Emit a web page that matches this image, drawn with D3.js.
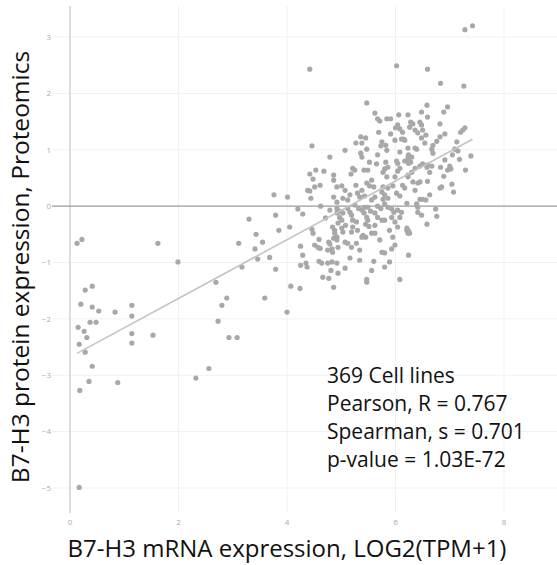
<!DOCTYPE html>
<html>
<head>
<meta charset="utf-8">
<script src="https://cdn.jsdelivr.net/npm/d3@7"></script>
<style>
  body { margin: 0; background: #fff; }
  svg { display: block; font-family: "Open Sans", "Noto Sans", sans-serif; }
</style>
</head>
<body>
<script>
const width = 557,
    height = 565;

// mRNA expression, LOG2(TPM+1) per cell line
const mrna = [
    0.13, 0.22, 1.62, 1.99, 0.28, 0.41, 0.20, 0.41, 0.53, 0.83, 1.14, 1.14, 0.15, 0.26, 0.31, 0.37, 0.48, 0.17, 1.14, 1.14,
    1.53, 0.28, 0.41, 0.35, 0.88, 0.18, 2.32, 2.56, 0.17,
    2.69, 2.80, 2.89, 2.73, 2.93, 3.08, 3.59, 4.00, 3.11, 3.17, 3.30, 3.43, 3.41, 3.46, 3.55, 3.68, 3.76, 3.79, 3.85, 3.79,
    4.01, 4.05, 4.07, 4.24, 4.20, 4.29, 4.25, 4.29, 4.25, 4.35, 4.37, 4.42, 4.46, 4.79, 4.42, 4.53, 4.68, 4.48, 4.51, 4.61,
    4.86, 4.86, 4.92, 4.38, 4.42, 4.44, 4.86, 4.62, 4.92, 4.92, 4.46, 4.48, 4.51, 4.57, 4.61, 4.59, 4.84, 4.88, 4.88, 4.92,
    4.86, 4.77, 4.79, 4.83, 4.84, 4.75, 4.59, 4.64, 4.75, 4.83, 4.92, 4.81, 4.94, 4.66, 4.77, 4.86,
    5.47, 5.62, 5.67, 5.71, 5.84, 5.91, 6.06, 6.23, 6.04, 6.00, 6.08, 6.13, 5.69, 5.91, 6.11, 6.15, 5.36, 5.45, 5.27, 5.38,
    5.75, 5.82, 5.73, 5.84, 5.47, 5.36, 5.38, 5.67, 6.08, 6.23, 6.23, 6.17, 6.24, 6.02, 6.04, 6.08, 6.04, 5.82, 5.86, 5.80,
    5.77, 5.52, 5.49, 5.65, 5.21, 5.25, 5.18, 5.42, 5.84, 5.99, 5.56, 5.52, 5.47, 5.60, 5.27, 5.01, 5.77, 5.86, 5.95, 6.13,
    6.17, 6.23, 5.38, 5.30, 5.34, 5.43, 5.75, 5.80, 5.86, 5.77, 6.02, 6.08, 5.03, 5.12, 4.92, 5.56, 5.62, 5.80, 5.86, 5.93,
    5.97, 6.04, 6.11, 5.25, 5.32, 5.38, 5.43, 5.49, 5.54, 5.62, 5.67, 5.73, 5.12, 5.16, 5.19, 5.21, 5.28, 4.97, 5.03, 4.97,
    5.01, 4.94, 5.01, 5.03, 5.42, 5.47, 5.49, 5.45, 5.51, 5.67, 5.75, 5.80, 5.93, 5.99, 6.04, 6.08, 5.21, 5.19, 5.56, 5.62,
    5.40, 5.38, 5.45, 5.95, 6.21, 6.23, 4.92, 4.94, 5.07, 5.12, 5.19, 5.28, 5.75, 5.80, 5.93, 5.34, 5.60, 6.24, 5.80, 5.47,
    5.47, 6.08,
    6.59, 6.83, 7.26, 7.28, 7.42, 6.02, 6.58, 6.48, 6.59, 6.96, 6.89, 6.28, 6.32, 6.26, 6.45, 6.48, 6.82, 7.28, 7.24, 7.20,
    6.36, 6.41, 6.50, 6.56, 6.91, 6.82, 6.76, 6.48, 6.54, 7.13, 6.17, 6.36, 6.39, 6.69, 6.67, 6.69, 7.09, 7.15, 6.24, 6.30,
    6.24, 6.28, 7.39, 7.05, 7.18, 6.45, 6.50, 6.59, 6.67, 6.58, 6.36, 6.30, 6.23, 6.83, 7.00, 6.96, 7.02, 7.29, 6.63, 6.89,
    6.32, 6.41, 6.45, 6.59, 7.04, 6.82, 6.85, 7.07, 6.45, 6.50, 6.56, 6.21, 6.39, 6.41, 6.74, 6.41, 6.48, 6.76, 6.58, 6.21,
    6.24, 6.26,
    5.07, 5.16, 4.79, 4.71, 5.08, 5.30, 5.62, 5.89, 5.99, 5.71, 5.34, 5.16, 5.07, 5.56, 5.89, 5.07, 5.99, 6.36, 6.63, 6.91
];

// protein expression, Proteomics per cell line
const protein = [
    -0.66, -0.59, -0.66, -0.99, -1.49, -1.42, -1.74, -1.79, -1.86, -1.88, -1.76, -1.95, -2.15, -2.22, -2.33, -2.06, -2.06, -2.45, -2.26, -2.43,
    -2.29, -2.59, -2.84, -3.11, -3.13, -3.27, -3.05, -2.88, -4.99,
    -1.35, -1.76, -1.63, -2.04, -2.33, -2.33, -1.63, -1.88, -0.66, -1.08, -0.23, -0.50, -0.76, -0.94, -0.64, -0.91, 0.20, -0.16, -0.43, -1.12,
    0.16, -0.37, -1.42, -1.46, -0.05, -0.14, -0.71, -0.87, -1.05, -1.01, -1.08, 2.43, 1.07, 0.87, 0.57, 0.64, 0.62, 0.48, 0.34, 0.37,
    0.55, 0.46, 0.34, 0.28, 0.27, 0.14, 0.16, 0.00, -0.04, -0.12, -0.41, -0.48, -0.69, -0.73, -0.75, -0.59, -0.37, -0.43, -0.48, -0.55,
    -0.57, -0.64, -0.67, -0.76, -0.82, -0.78, -0.98, -1.01, -1.01, -0.99, -1.01, -1.14, -1.19, -1.26, -1.28, -1.44,
    1.83, 1.65, 1.55, 1.51, 1.55, 1.55, 1.62, 1.62, 1.44, 1.39, 1.37, 1.31, 1.31, 1.28, 1.19, 1.19, 1.23, 1.21, 1.12, 1.12,
    1.14, 1.08, 1.07, 0.99, 1.01, 0.94, 0.87, 0.91, 0.96, 1.03, 0.87, 0.80, 0.76, 0.80, 0.76, 0.67, 0.62, 0.78, 0.69, 0.66,
    0.60, 0.78, 0.64, 0.75, 0.67, 0.64, 0.57, 0.64, 0.52, 0.52, 0.46, 0.36, 0.41, 0.34, 0.37, 0.36, 0.34, 0.32, 0.36, 0.37,
    0.32, 0.52, 0.28, 0.23, 0.16, 0.18, 0.25, 0.20, 0.14, 0.12, 0.23, 0.18, 0.14, 0.11, 0.07, 0.11, 0.16, 0.04, -0.02, -0.05,
    -0.11, -0.07, -0.11, 0.02, -0.04, -0.07, -0.02, -0.02, -0.09, -0.12, 0.00, -0.04, -0.04, -0.11, -0.16, -0.25, -0.28, -0.09, -0.12, -0.20,
    -0.25, -0.30, -0.39, -0.46, -0.12, -0.20, -0.25, -0.32, -0.36, -0.20, -0.25, -0.25, -0.20, -0.28, -0.37, -0.20, -0.37, -0.46, -0.48, -0.48,
    -0.52, -0.55, -0.55, -0.55, -0.43, -0.48, -0.60, -0.73, -0.64, -0.66, -0.73, -0.66, -0.82, -0.83, -0.76, -0.96, -0.98, -0.87, -1.08, -1.30,
    -1.35, -1.30,
    2.43, 2.18, 2.13, 3.13, 3.20, 2.49, 1.79, 1.67, 1.58, 1.76, 1.67, 1.49, 1.46, 1.40, 1.49, 1.44, 1.46, 1.39, 1.35, 1.31,
    1.35, 1.30, 1.35, 1.26, 1.28, 1.23, 1.15, 1.21, 1.12, 1.14, 1.17, 1.03, 1.01, 1.08, 1.01, 0.94, 1.01, 0.98, 0.91, 0.87,
    0.82, 0.78, 0.89, 0.91, 0.83, 0.71, 0.75, 0.73, 0.71, 0.69, 0.67, 0.60, 0.55, 0.69, 0.71, 0.64, 0.66, 0.64, 0.60, 0.53,
    0.43, 0.41, 0.43, 0.44, 0.39, 0.32, 0.34, 0.25, 0.12, 0.12, 0.11, 0.05, 0.04, -0.02, -0.05, -0.11, -0.16, -0.18, -0.32, -0.39,
    -0.44, -0.48,
    0.28, 0.20, -0.07, -0.21, -0.34, -0.43, -0.34, -0.43, -0.69, -0.60, -0.78, -0.92, -1.10, -1.14, -0.99, 0.99, 1.17, 0.28, 0.20, 0.82
];

const xTicks = [0, 2, 4, 6, 8];
const yTicks = [3, 2, 1, 0, -1, -2, -3, -4, -5];

const fitLine = { intercept: -2.68, slope: 0.521 };

const statsLines = [
    '369 Cell lines',
    'Pearson, R = 0.767',
    'Spearman, s = 0.701',
    'p-value = 1.03E-72'
];

const xTitle = 'B7-H3 mRNA expression, LOG2(TPM+1)';
const yTitle = 'B7-H3 protein expression, Proteomics';

const points = mrna.map((d, i) => ({ x: d, y: protein[i] }));

const x = d3.scaleLinear()
    .domain([0, 8])
    .range([70, 504]);

const y = d3.scaleLinear()
    .domain([-5, 3])
    .range([488, 37]);

const plotTop = 6,
    plotBottom = 513,
    plotRight = width;

const svg = d3.select('body')
    .append('svg')
    .attr('width', width)
    .attr('height', height);

// horizontal grid
svg.append('g')
    .selectAll('line')
    .data(yTicks.filter(d => d !== 0))
    .enter()
    .append('line')
    .attr('x1', 52)
    .attr('x2', plotRight)
    .attr('y1', d => y(d))
    .attr('y2', d => y(d))
    .attr('stroke', '#f1f1f1')
    .attr('stroke-width', 1);

// vertical grid
svg.append('g')
    .selectAll('line')
    .data(xTicks.filter(d => d !== 0))
    .enter()
    .append('line')
    .attr('x1', d => x(d))
    .attr('x2', d => x(d))
    .attr('y1', plotTop)
    .attr('y2', plotBottom)
    .attr('stroke', '#f1f1f1')
    .attr('stroke-width', 1);

// y axis line
svg.append('line')
    .attr('x1', x(0))
    .attr('x2', x(0))
    .attr('y1', plotTop)
    .attr('y2', plotBottom)
    .attr('stroke', '#d0d0d0')
    .attr('stroke-width', 1.5);

// zero line
svg.append('line')
    .attr('x1', 52)
    .attr('x2', plotRight)
    .attr('y1', y(0))
    .attr('y2', y(0))
    .attr('stroke', '#9a9a9a')
    .attr('stroke-width', 1.2);

// tick labels
svg.append('g')
    .selectAll('text')
    .data(yTicks)
    .enter()
    .append('text')
    .attr('x', 51)
    .attr('y', d => y(d))
    .attr('dy', '0.35em')
    .attr('text-anchor', 'end')
    .attr('font-size', 8)
    .attr('fill', '#aaa')
    .text(d => d < 0 ? '\u2212' + Math.abs(d) : d);

svg.append('g')
    .selectAll('text')
    .data(xTicks)
    .enter()
    .append('text')
    .attr('x', d => x(d))
    .attr('y', 525)
    .attr('text-anchor', 'middle')
    .attr('font-size', 8)
    .attr('fill', '#aaa')
    .text(d => d);

// points
svg.append('g')
    .selectAll('circle')
    .data(points)
    .enter()
    .append('circle')
    .attr('cx', d => x(d.x))
    .attr('cy', d => y(d.y))
    .attr('r', 2.6)
    .attr('fill', '#a8a8a8');

// regression line
const xExt = d3.extent(mrna);
svg.append('line')
    .attr('x1', x(xExt[0]))
    .attr('x2', x(xExt[1]))
    .attr('y1', y(fitLine.intercept + fitLine.slope * xExt[0]))
    .attr('y2', y(fitLine.intercept + fitLine.slope * xExt[1]))
    .attr('stroke', '#c4c4c4')
    .attr('stroke-width', 1.6);

// stats annotation
svg.append('g')
    .selectAll('text')
    .data(statsLines)
    .enter()
    .append('text')
    .attr('x', 327)
    .attr('y', (d, i) => 383 + i * 28)
    .attr('font-size', 21)
    .attr('fill', '#111')
    .text(d => d);

// axis titles
svg.append('text')
    .attr('x', 287)
    .attr('y', 557)
    .attr('text-anchor', 'middle')
    .attr('font-size', 24)
    .attr('fill', '#111')
    .text(xTitle);

svg.append('text')
    .attr('transform', 'translate(29,267) rotate(-90)')
    .attr('text-anchor', 'middle')
    .attr('font-size', 24.5)
    .attr('fill', '#111')
    .text(yTitle);
</script>
</body>
</html>
